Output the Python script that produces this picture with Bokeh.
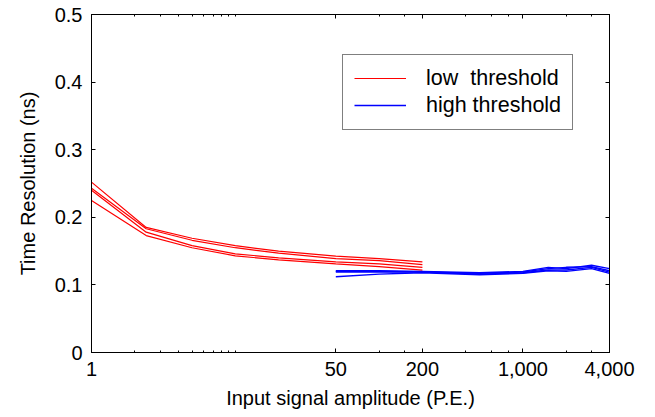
from bokeh.plotting import figure
from bokeh.models import (Range1d, FixedTicker, NumeralTickFormatter, LogAxis, LinearAxis,
                          CustomJSTickFormatter, Legend, LegendItem)
from bokeh.embed import file_html
from bokeh.resources import INLINE

# ---- data ----
red_x = [1, 2.4, 5, 10, 20, 50, 100, 200]
red_1 = [0.252, 0.185, 0.169, 0.158, 0.150, 0.1425, 0.139, 0.134]
red_2 = [0.243, 0.183, 0.166, 0.155, 0.147, 0.139, 0.136, 0.130]
red_3 = [0.240, 0.178, 0.158, 0.146, 0.140, 0.134, 0.131, 0.126]
red_4 = [0.225, 0.173, 0.155, 0.143, 0.137, 0.131, 0.127, 0.122]

blue_x = [50, 100, 200, 500, 1000, 1500, 2000, 3000, 4000]
blue_1 = [0.121, 0.121, 0.120, 0.118, 0.120, 0.126, 0.124, 0.129, 0.124]
blue_2 = [0.120, 0.120, 0.119, 0.117, 0.119, 0.124, 0.126, 0.127, 0.121]
blue_3 = [0.119, 0.119, 0.119, 0.116, 0.118, 0.122, 0.122, 0.126, 0.119]
blue_4 = [0.112, 0.116, 0.118, 0.115, 0.117, 0.121, 0.120, 0.124, 0.117]

x_major_ticks = [1, 50, 200, 1000, 4000]
x_minor_ticks = [2, 3, 4, 5, 6, 7, 8, 9, 10, 100, 150, 400, 600, 800, 2000, 3000]
y_ticks = [0, 0.1, 0.2, 0.3, 0.4, 0.5]

FONT = "Liberation Sans"

p = figure(x_axis_type="log", frame_width=518, frame_height=338,
           min_border_left=91, min_border_right=38, min_border_top=14, min_border_bottom=40,
           x_range=Range1d(1, 4000), y_range=Range1d(0, 0.5),
           output_backend="svg", toolbar_location=None, background_fill_color="white",
           border_fill_color="white")
p.xgrid.visible = False
p.ygrid.visible = False
p.outline_line_color = "black"

xt = FixedTicker(ticks=x_major_ticks, minor_ticks=x_minor_ticks)
yt = FixedTicker(ticks=y_ticks, minor_ticks=[])

def style(ax):
    ax.major_tick_in = 4
    ax.major_tick_out = 0
    ax.minor_tick_in = 2
    ax.minor_tick_out = 0
    ax.axis_line_color = "black"
    ax.major_tick_line_color = "black"
    ax.minor_tick_line_color = "black"
    ax.major_label_text_font = FONT
    ax.major_label_text_font_size = "20px"
    ax.major_label_text_color = "black"
    ax.axis_label_text_font = FONT
    ax.axis_label_text_font_size = "20px"
    ax.axis_label_text_font_style = "normal"
    ax.axis_label_text_color = "black"

xa = p.xaxis[0]
xa.ticker = xt
xa.formatter = NumeralTickFormatter(format="0,0")
xa.axis_label = "Input signal amplitude (P.E.)"
style(xa)
xa.major_label_standoff = 9
xa.axis_label_standoff = 8

ya = p.yaxis[0]
ya.ticker = yt
ya.formatter = NumeralTickFormatter(format="0.[0]")
ya.axis_label = "Time Resolution (ns)"
style(ya)
ya.major_label_standoff = 9
ya.axis_label_standoff = 13

empty = CustomJSTickFormatter(code="return ''")
top = LogAxis(ticker=xt, formatter=empty)
style(top)
top.major_label_text_font_size = "0px"
right = LinearAxis(ticker=yt, formatter=empty)
style(right)
right.major_label_text_font_size = "0px"
p.add_layout(top, "above")
p.add_layout(right, "right")

red_lines = []
for ys in (red_1, red_2, red_3, red_4):
    red_lines.append(p.line(red_x, ys, line_color="#ff0000", line_width=1.2))
blue_lines = []
for ys in (blue_1, blue_2, blue_3, blue_4):
    blue_lines.append(p.line(blue_x, ys, line_color="#0000ff", line_width=1.4))

legend = Legend(items=[LegendItem(label="low  threshold", renderers=[red_lines[0]]),
                       LegendItem(label="high threshold", renderers=[blue_lines[0]])],
                location=(251, 222.5), padding=11, spacing=2, glyph_width=52, glyph_height=20,
                label_height=20, label_standoff=20, label_text_font=FONT,
                label_text_color="black",
                label_text_font_size="21.5px", border_line_color="black", border_line_width=1,
                background_fill_color="white", background_fill_alpha=1, margin=0)
p.add_layout(legend, "center")

open("out.html", "w").write(file_html(p, INLINE))
